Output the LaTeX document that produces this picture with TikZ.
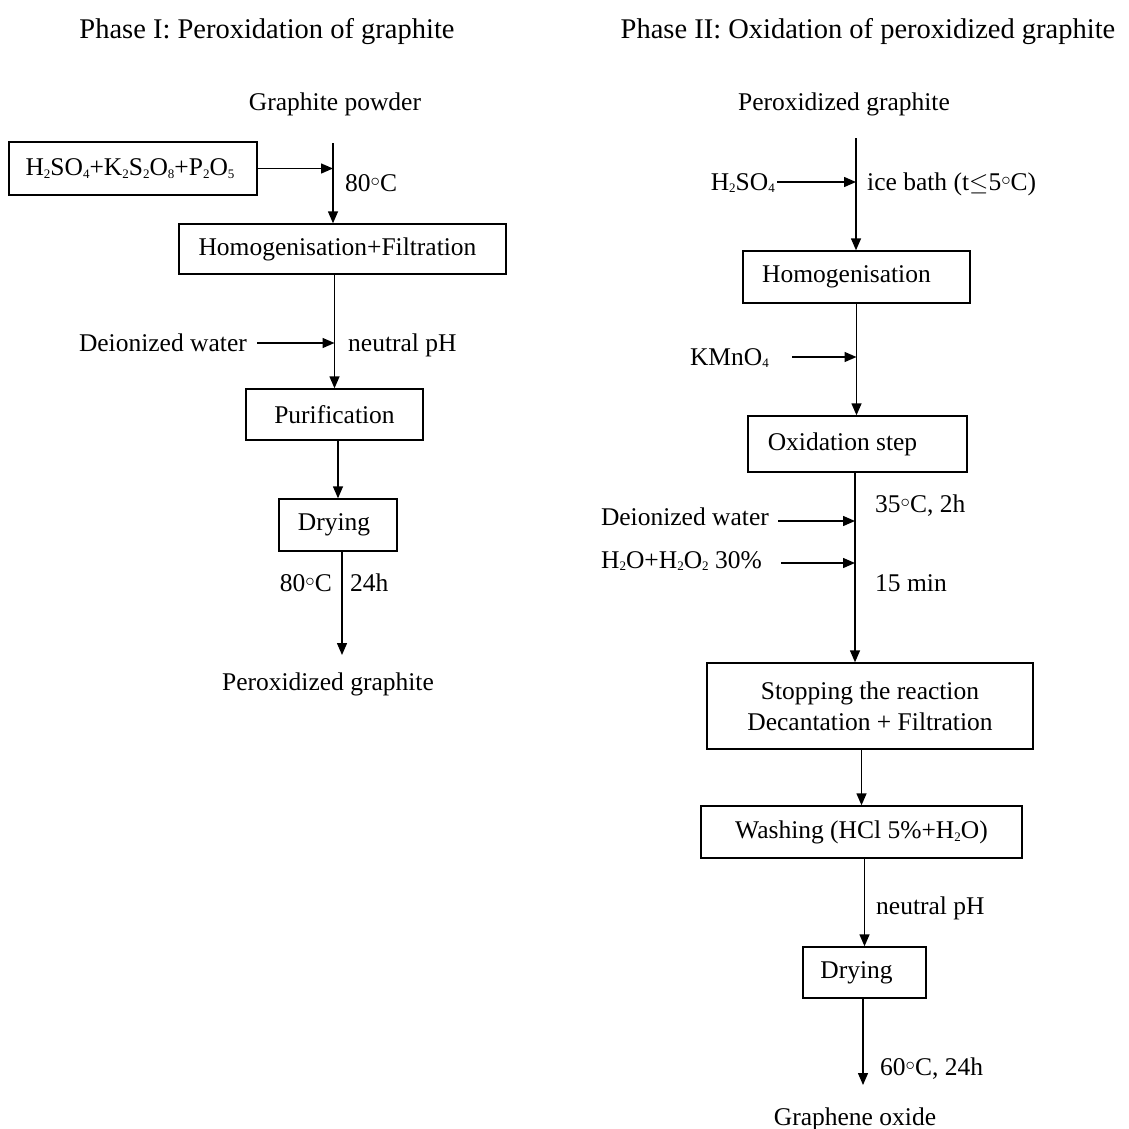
\documentclass[tikz,border=0pt]{standalone}
\usepackage{fontspec}
\setmainfont{Liberation Serif}
\usetikzlibrary{arrows.meta}
\newcommand{\bodyfont}{\fontsize{25.5}{31}\selectfont}
\newcommand{\titlefont}{\fontsize{28.5}{34}\selectfont}
\newcommand{\sbs}[1]{\raisebox{-0.25ex}{\fontsize{13}{13}\selectfont #1}}
\newcommand{\degc}{\raisebox{0.4ex}{\scalebox{0.75}{$\circ$}}}
\tikzset{
  box/.style={draw, line width=1.4pt, inner sep=0pt, align=center, font=\bodyfont},
  lbl/.style={inner sep=0pt, font=\bodyfont},
  ttl/.style={inner sep=0pt, font=\titlefont},
  arr/.style={line width=1.4pt, -{Triangle[length=12pt,width=10pt]}}
}
\begin{document}
\begin{tikzpicture}[x=1pt,y=-1pt]
\useasboundingbox (0,0) rectangle (1128,1129);
% ---------- Phase I ----------
\node[ttl, anchor=base] (t1) at (267,39) {Phase I: Peroxidation of graphite};
\node[lbl, anchor=base] (gp) at (335,111) {Graphite powder};
\node[box, minimum width=248pt, minimum height=53pt] (f1) at (133,168.5) {H\sbs{2}SO\sbs{4}+K\sbs{2}S\sbs{2}O\sbs{8}+P\sbs{2}O\sbs{5}\hspace*{6pt}};
\node[lbl, anchor=base west] (l1) at (345,191) {80\degc C};
\node[box, minimum width=327pt, minimum height=50pt] (hf) at (342.5,249) {Homogenisation+Filtration\hspace*{10pt}};
\node[lbl, anchor=base east] (dw1) at (247,351) {Deionized water};
\node[lbl, anchor=base west] (np1) at (348,351) {neutral pH};
\node[box, minimum width=177pt, minimum height=51pt] (pur) at (334.5,414.5) {Purification};
\node[box, minimum width=118pt, minimum height=52pt] (dry1) at (338,525) {Drying\hspace*{8pt}};
\node[lbl, anchor=base east] (l2) at (332,591) {80\degc C};
\node[lbl, anchor=base west] (l3) at (350,591) {24h};
\node[lbl, anchor=base] (out1) at (328,690) {Peroxidized graphite};
\coordinate (s1) at (333,143);
\draw[arr] (s1) -- (s1 |- hf.north);
\draw[arr] (f1.east) -- (s1 |- f1.east);
\draw[arr] (pur.north |- hf.south) -- (pur.north);
\coordinate (a1) at (257,343);
\draw[arr] (a1) -- (a1 -| pur.north);
\draw[arr] (dry1.north |- pur.south) -- (dry1.north);
\coordinate (e1) at (342,655);
\draw[arr] (e1 |- dry1.south) -- (e1);
% ---------- Phase II ----------
\node[ttl, anchor=base] (t2) at (868,39) {Phase II: Oxidation of peroxidized graphite};
\node[lbl, anchor=base] (pg) at (844,111) {Peroxidized graphite};
\node[lbl, anchor=base east] (h2s) at (775,190) {H\sbs{2}SO\sbs{4}};
\node[lbl, anchor=base west] (ice) at (867,190) {ice bath (t$\leq$5\degc C)};
\node[box, minimum width=227pt, minimum height=52pt] (hom) at (856.5,277) {Homogenisation\hspace*{20pt}};
\node[lbl, anchor=base east] (kmn) at (769,365) {KMnO\sbs{4}};
\node[box, minimum width=219pt, minimum height=56pt] (ox) at (857.5,444) {Oxidation step\hspace*{30pt}};
\node[lbl, anchor=base west] (l35) at (875,512) {35\degc C, 2h};
\node[lbl, anchor=base east] (dw2) at (769,525) {Deionized water};
\node[lbl, anchor=base east] (h2o) at (762,568) {H\sbs{2}O+H\sbs{2}O\sbs{2} 30\%};
\node[lbl, anchor=base west] (l15) at (875,591) {15 min};
\node[box, minimum width=326pt, minimum height=86pt] (stop) at (870,706) {Stopping the reaction\\Decantation + Filtration};
\node[box, minimum width=321pt, minimum height=52pt] (wash) at (861.5,832) {Washing (HCl 5\%+H\sbs{2}O)};
\node[lbl, anchor=base west] (np2) at (876,914) {neutral pH};
\node[box, minimum width=123pt, minimum height=51pt] (dry2) at (864.5,972.5) {Drying\hspace*{16pt}};
\node[lbl, anchor=base west] (l60) at (880,1075) {60\degc C, 24h};
\node[lbl, anchor=base] (go) at (855,1125) {Graphene oxide};
\coordinate (s2) at (856,138);
\draw[arr] (s2) -- (s2 |- hom.north);
\coordinate (a2) at (777,182);
\draw[arr] (a2) -- (a2 -| s2);
\coordinate (a3) at (792,357);
\draw[arr] (a3) -- (a3 -| hom.south);
\draw[arr] (hom.south) -- (hom.south |- ox.north);
\coordinate (s3) at (855,472);
\draw[arr] (s3) -- (s3 |- stop.north);
\coordinate (a4) at (778,521);
\draw[arr] (a4) -- (a4 -| s3);
\coordinate (a5) at (781,563);
\draw[arr] (a5) -- (a5 -| s3);
\draw[arr] (stop.south -| wash.north) -- (wash.north);
\draw[arr] (wash.south -| dry2.north) -- (dry2.north);
\coordinate (e2) at (863,1085);
\draw[arr] (e2 |- dry2.south) -- (e2);
\end{tikzpicture}
\end{document}
